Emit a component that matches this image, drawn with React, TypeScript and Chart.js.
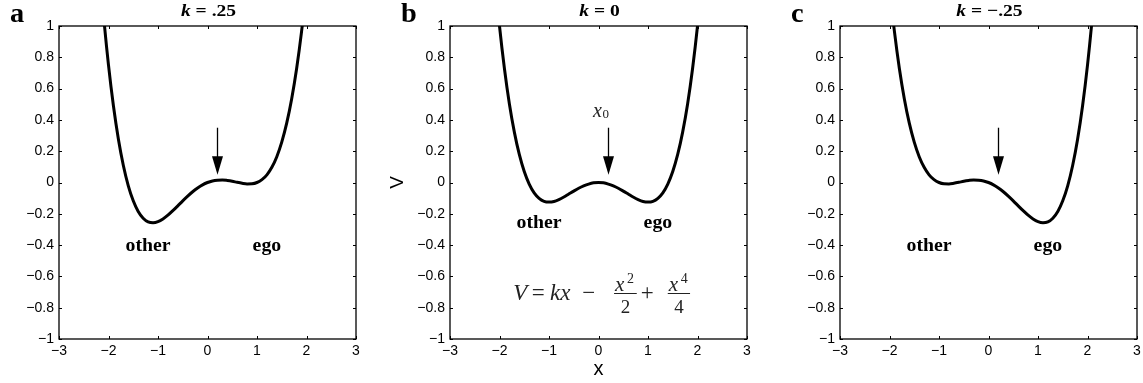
import React, { useEffect, useRef } from 'react';
import { Chart, registerables } from 'chart.js';

Chart.register(...registerables);

// ---- data ----
const xValues = [
  -2.2, -2.1, -2.0, -1.9, -1.8, -1.7, -1.6, -1.5, -1.4, -1.3, -1.2, -1.1, -1.0, -0.9, -0.8, -0.7, -0.6, -0.5, -0.4, -0.3, -0.2, -0.1,
  0, 0.1, 0.2, 0.3, 0.4, 0.5, 0.6, 0.7, 0.8, 0.9, 1.0, 1.1, 1.2, 1.3, 1.4, 1.5, 1.6, 1.7, 1.8, 1.9, 2.0, 2.1, 2.2,
];
const vPanelA = [
  1.443, 1.066, 0.75, 0.489, 0.277, 0.109, -0.021, -0.117, -0.185, -0.228, -0.251, -0.257, -0.25, -0.233, -0.209, -0.18, -0.149, -0.117, -0.087, -0.059, -0.035, -0.015,
  0, 0.01, 0.015, 0.016, 0.013, 0.008, 0.001, -0.005, -0.009, -0.008, 0, 0.018, 0.049, 0.097, 0.165, 0.258, 0.379, 0.534, 0.727, 0.964, 1.25, 1.591, 1.993,
];
const vPanelB = [
  1.718, 1.329, 1.0, 0.727, 0.502, 0.322, 0.179, 0.07, -0.01, -0.066, -0.101, -0.12, -0.125, -0.121, -0.109, -0.093, -0.074, -0.055, -0.037, -0.022, -0.01, -0.002,
  0, -0.002, -0.01, -0.022, -0.037, -0.055, -0.074, -0.093, -0.109, -0.121, -0.125, -0.12, -0.101, -0.066, -0.01, 0.07, 0.179, 0.322, 0.502, 0.727, 1.0, 1.329, 1.718,
];
const vPanelC = [
  1.993, 1.591, 1.25, 0.964, 0.727, 0.534, 0.379, 0.258, 0.165, 0.097, 0.049, 0.018, 0, -0.008, -0.009, -0.005, 0.001, 0.008, 0.013, 0.016, 0.015, 0.01,
  0, -0.015, -0.035, -0.059, -0.087, -0.117, -0.149, -0.18, -0.209, -0.233, -0.25, -0.257, -0.251, -0.228, -0.185, -0.117, -0.021, 0.109, 0.277, 0.489, 0.75, 1.066, 1.443,
];
const xTicks = [-3, -2, -1, 0, 1, 2, 3];
const yTicks = [-1, -0.8, -0.6, -0.4, -0.2, 0, 0.2, 0.4, 0.6, 0.8, 1];
const panelLetters = ['a', 'b', 'c'];
const kLabels = ['.25', '0', '\u2212.25'];
const wellLabels = ['other', 'ego'];
const wellLabelX = [-1.2, 1.2];
const wellLabelY = [-0.44, -0.29, -0.44];
const arrowX = 0.2;
const arrowTopV = 0.35;
const arrowHeadV = 0.168;
const arrowTipV = 0.05;

const fmt = (v: number) => {
  const r = Math.round(Number(v) * 10) / 10;
  return r < 0 ? '\u2212' + String(-r) : String(r);
};

const SANS = '"Liberation Sans", Arial, Helvetica, sans-serif';
const SERIF = '"Liberation Serif", "Times New Roman", serif';

function txt(
  ctx: CanvasRenderingContext2D,
  s: string,
  x: number,
  y: number,
  font: string,
  align: CanvasTextAlign = 'left',
  sx = 1,
  color = '#000'
) {
  ctx.save();
  ctx.translate(x, y);
  ctx.scale(sx, 1);
  ctx.font = font;
  ctx.textAlign = align;
  ctx.textBaseline = 'alphabetic';
  ctx.fillStyle = color;
  ctx.fillText(s, 0, 0);
  ctx.restore();
}

type PanelProps = {
  idx: number;
  left: number;
  values: number[];
  pad: { left: number; right: number; top: number; bottom: number };
};

function Panel({ idx, left, values, pad }: PanelProps) {
  const ref = useRef<HTMLCanvasElement>(null);
  useEffect(() => {
    if (!ref.current) return;
    const annot = {
      id: 'annot' + idx,
      afterDraw(chart: any) {
        const { ctx, chartArea: ca } = chart;
        const xs = chart.scales.x;
        const ys = chart.scales.y;
        ctx.save();
        // box
        ctx.strokeStyle = '#000';
        ctx.lineWidth = 1.3;
        ctx.strokeRect(ca.left, ca.top, ca.right - ca.left, ca.bottom - ca.top);
        // inward ticks
        ctx.lineWidth = 1;
        ctx.beginPath();
        xTicks.forEach((v) => {
          const px = Math.round(xs.getPixelForValue(v)) + 0.5;
          ctx.moveTo(px, ca.bottom);
          ctx.lineTo(px, ca.bottom - 3);
          ctx.moveTo(px, ca.top);
          ctx.lineTo(px, ca.top + 3);
        });
        yTicks.forEach((v) => {
          const py = Math.round(ys.getPixelForValue(v)) + 0.5;
          ctx.moveTo(ca.left, py);
          ctx.lineTo(ca.left + 3, py);
          ctx.moveTo(ca.right, py);
          ctx.lineTo(ca.right - 3, py);
        });
        ctx.stroke();

        // panel letter
        txt(ctx, panelLetters[idx], ca.left - 49, 22, `bold 27px ${SERIF}`, 'left', 1.05);

        // title: k = value
        const cx = (ca.left + ca.right) / 2 + 1;
        const sx = 1.15;
        ctx.font = `bold italic 17px ${SERIF}`;
        const wk = ctx.measureText('k').width;
        ctx.font = `bold 17px ${SERIF}`;
        const rest = ' = ' + kLabels[idx];
        const wr = ctx.measureText(rest).width;
        const total = (wk + wr) * sx;
        const tx = cx - total / 2;
        txt(ctx, 'k', tx, 15.5, `bold italic 17px ${SERIF}`, 'left', sx);
        txt(ctx, rest, tx + wk * sx, 15.5, `bold 17px ${SERIF}`, 'left', sx);

        // well labels
        wellLabels.forEach((s, i) => {
          txt(
            ctx,
            s,
            xs.getPixelForValue(wellLabelX[i]),
            ys.getPixelForValue(wellLabelY[idx]),
            `bold 18px ${SERIF}`,
            'center',
            1.1
          );
        });

        // arrow
        const ax = Math.round(xs.getPixelForValue(arrowX)) + 0.5;
        const yTop = ys.getPixelForValue(arrowTopV);
        const yHead = ys.getPixelForValue(arrowHeadV);
        const yTip = ys.getPixelForValue(arrowTipV);
        ctx.strokeStyle = '#000';
        ctx.lineWidth = 1.3;
        ctx.beginPath();
        ctx.moveTo(ax, yTop);
        ctx.lineTo(ax, yHead + 1);
        ctx.stroke();
        ctx.fillStyle = '#000';
        ctx.beginPath();
        ctx.moveTo(ax - 5.5, yHead);
        ctx.lineTo(ax + 5.5, yHead);
        ctx.lineTo(ax, yTip);
        ctx.closePath();
        ctx.fill();

        if (idx === 1) {
          // x0 label
          txt(ctx, 'x', ax - 15.6, yTop - 11, `italic 20px ${SERIF}`, 'left', 1, '#222');
          txt(ctx, '0', ax - 6, yTop - 9.4, `13px ${SERIF}`, 'left', 1, '#222');

          // axis titles
          ctx.save();
          ctx.translate(ca.left - 52, ys.getPixelForValue(0));
          ctx.rotate(-Math.PI / 2);
          ctx.font = `19px ${SANS}`;
          ctx.textAlign = 'center';
          ctx.textBaseline = 'middle';
          ctx.fillStyle = '#000';
          ctx.fillText('V', 0, 0);
          ctx.restore();
          txt(ctx, 'x', (ca.left + ca.right) / 2, ca.bottom + 36, `20px ${SANS}`, 'center');

          // formula V = kx - x^2/2 + x^4/4
          const fx = xs.getPixelForValue(-1.72);
          const by = ys.getPixelForValue(-0.75);
          const c = '#222';
          const main = `italic 23px ${SERIF}`;
          const up = `23px ${SERIF}`;
          txt(ctx, 'V', fx, by, main, 'left', 1, c);
          txt(ctx, '=', fx + 18.4, by, up, 'left', 1, c);
          txt(ctx, 'kx', fx + 36.7, by, main, 'left', 1, c);
          txt(ctx, '\u2212', fx + 69, by, up, 'left', 1, c);
          txt(ctx, '+', fx + 127.5, by, up, 'left', 1, c);
          const fracs = [
            { l: 100.7, r: 123.4, sup: '2', den: '2' },
            { l: 154.4, r: 176.7, sup: '4', den: '4' },
          ];
          fracs.forEach((f) => {
            ctx.strokeStyle = c;
            ctx.lineWidth = 1;
            ctx.beginPath();
            ctx.moveTo(fx + f.l, Math.round(by - 6.5) + 0.5);
            ctx.lineTo(fx + f.r, Math.round(by - 6.5) + 0.5);
            ctx.stroke();
            txt(ctx, 'x', fx + f.l + 1, by - 9, `italic 21px ${SERIF}`, 'left', 1, c);
            txt(ctx, f.sup, fx + f.l + 13, by - 17.3, `14px ${SERIF}`, 'left', 1, c);
            txt(ctx, f.den, fx + (f.l + f.r) / 2, by + 13.3, `19px ${SERIF}`, 'center', 1, c);
          });
        }
        ctx.restore();
      },
    };

    const tickFont = { family: SANS, size: 14 };
    const chart = new Chart(ref.current, {
      type: 'line',
      data: {
        datasets: [
          {
            data: xValues.map((x, i) => ({ x, y: values[i] })),
            borderColor: '#000',
            borderWidth: 3,
            pointRadius: 0,
            cubicInterpolationMode: 'monotone',
            fill: false,
            clip: 0,
          } as any,
        ],
      },
      options: {
        responsive: false,
        animation: false,
        devicePixelRatio: 1,
        events: [],
        layout: { padding: pad },
        plugins: { legend: { display: false }, tooltip: { enabled: false }, title: { display: false } },
        scales: {
          x: {
            type: 'linear',
            min: -3,
            max: 3,
            afterBuildTicks: (s: any) => {
              s.ticks = xTicks.map((v) => ({ value: v }));
            },
            afterFit: (s: any) => {
              s.height = 30;
            },
            ticks: { callback: (v: any) => fmt(v), padding: 0, font: tickFont, color: '#000', maxRotation: 0, autoSkip: false },
            grid: { drawOnChartArea: false, drawTicks: true, tickLength: 4, color: 'rgba(0,0,0,0)' },
            border: { display: false },
          },
          y: {
            type: 'linear',
            min: -1,
            max: 1,
            afterBuildTicks: (s: any) => {
              s.ticks = yTicks.map((v) => ({ value: v }));
            },
            afterFit: (s: any) => {
              s.width = 45;
            },
            ticks: { callback: (v: any) => fmt(v), padding: 0, font: tickFont, color: '#000', autoSkip: false },
            grid: { drawOnChartArea: false, drawTicks: true, tickLength: 5, color: 'rgba(0,0,0,0)' },
            border: { display: false },
          },
        },
      } as any,
      plugins: [annot],
    });
    return () => chart.destroy();
  }, []);
  return (
    <canvas
      ref={ref}
      width={381}
      height={383}
      style={{ position: 'absolute', left, top: 0, width: 381, height: 383 }}
    />
  );
}

export default function App() {
  return (
    <div style={{ position: 'absolute', left: 0, top: 0, width: 1143, height: 383, background: '#fff', overflow: 'hidden' }}>
      <Panel idx={0} left={0} values={vPanelA} pad={{ left: 14, right: 25, top: 26, bottom: 14 }} />
      <Panel idx={1} left={381} values={vPanelB} pad={{ left: 24, right: 15, top: 26, bottom: 14 }} />
      <Panel idx={2} left={762} values={vPanelC} pad={{ left: 33, right: 6, top: 26, bottom: 14 }} />
    </div>
  );
}
